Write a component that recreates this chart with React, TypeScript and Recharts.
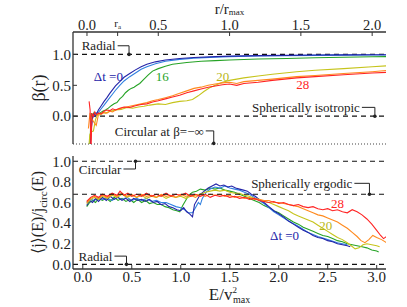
import { LineChart, Line, XAxis, YAxis, ReferenceLine, ReferenceDot } from 'recharts'

const FONT = "'Liberation Serif', 'Times New Roman', 'DejaVu Serif', serif"
const INK = '#222'
const SPINE = '#333'
const TXT = { fontFamily: FONT }

const COLORS = {
  dt0: '#2424a8',
  dt8: '#3080e0',
  dt16: '#26a326',
  dt20: '#c6c41c',
  dt24: '#ff8a1e',
  dt28: '#ff2424',
}

// ---- top panel: beta(r) vs r / r_max ----
const RA = 0.215
const rTicks = [0, RA, 0.5, 1, 1.5, 2]
const betaTicks = [0, 0.5, 1]
const R_DOMAIN = [-0.098, 2.097]
const BETA_DOMAIN = [-0.45, 1.363]

const betaDt0 = [
  [0.015, -0.8], [0.03, -0.2], [0.04, -0.02], [0.05, 0.04], [0.06, 0.0], [0.07, 0.05], [0.08, 0.1],
  [0.1, 0.17], [0.12, 0.24], [0.14, 0.3], [0.16, 0.37], [0.18, 0.43], [0.2, 0.49], [0.23, 0.56],
  [0.26, 0.63], [0.3, 0.69], [0.34, 0.75], [0.38, 0.8], [0.42, 0.84], [0.48, 0.88], [0.55, 0.91],
  [0.65, 0.935], [0.75, 0.95], [0.9, 0.965], [1.0, 0.972], [1.2, 0.98], [1.4, 0.985], [1.6, 0.99],
  [1.8, 0.992], [2.0, 0.994], [2.1, 0.995],
]
const betaDt8 = [
  [0.015, -0.7], [0.03, -0.1], [0.045, 0.02], [0.06, 0.05], [0.08, 0.06], [0.1, 0.12], [0.12, 0.18],
  [0.14, 0.24], [0.16, 0.3], [0.18, 0.36], [0.2, 0.42], [0.23, 0.5], [0.26, 0.57], [0.3, 0.64],
  [0.34, 0.7], [0.38, 0.76], [0.42, 0.8], [0.48, 0.85], [0.55, 0.89], [0.65, 0.92], [0.75, 0.94],
  [0.9, 0.957], [1.0, 0.965], [1.2, 0.975], [1.4, 0.98], [1.6, 0.985], [1.8, 0.988], [2.0, 0.99],
  [2.1, 0.99],
]
const betaDt16 = [
  [0.02, -0.5], [0.03, 0.05], [0.04, 0.0], [0.05, 0.06], [0.07, 0.02], [0.09, 0.05], [0.11, 0.08],
  [0.13, 0.1], [0.15, 0.13], [0.17, 0.17], [0.19, 0.2], [0.21, 0.22], [0.23, 0.28], [0.25, 0.32],
  [0.27, 0.38], [0.29, 0.42], [0.31, 0.45], [0.33, 0.47], [0.35, 0.5], [0.37, 0.53], [0.4, 0.6],
  [0.43, 0.67], [0.46, 0.73], [0.5, 0.77], [0.55, 0.81], [0.6, 0.84], [0.7, 0.87], [0.8, 0.89],
  [0.9, 0.9], [1.0, 0.91], [1.2, 0.925], [1.4, 0.935], [1.6, 0.945], [1.8, 0.955], [2.0, 0.962],
  [2.1, 0.965],
]
const betaDt20 = [
  [0.01, -0.6], [0.02, -0.3], [0.03, -0.25], [0.045, -0.24], [0.06, -0.05], [0.075, 0.03], [0.09, 0.02],
  [0.11, 0.06], [0.13, 0.05], [0.16, 0.08], [0.2, 0.1], [0.24, 0.11], [0.28, 0.14], [0.32, 0.13],
  [0.36, 0.15], [0.4, 0.16], [0.44, 0.18], [0.5, 0.2], [0.55, 0.19], [0.6, 0.22], [0.65, 0.24],
  [0.7, 0.25], [0.74, 0.27], [0.78, 0.33], [0.82, 0.4], [0.86, 0.46], [0.9, 0.5], [0.95, 0.55],
  [1.0, 0.58], [1.1, 0.62], [1.2, 0.65], [1.3, 0.68], [1.47, 0.72], [1.6, 0.745], [1.8, 0.77],
  [2.0, 0.8], [2.1, 0.815],
]
const betaDt24 = [
  [0.01, -0.2], [0.02, 0.03], [0.035, -0.05], [0.05, -0.1], [0.065, -0.15], [0.08, 0.02], [0.09, 0.05],
  [0.1, 0.03], [0.12, 0.06], [0.14, 0.05], [0.16, 0.08], [0.18, 0.07], [0.2, 0.1], [0.23, 0.12],
  [0.26, 0.14], [0.3, 0.16], [0.34, 0.18], [0.38, 0.2], [0.42, 0.22], [0.46, 0.25], [0.5, 0.27],
  [0.55, 0.3], [0.6, 0.33], [0.65, 0.37], [0.7, 0.41], [0.75, 0.45], [0.8, 0.47], [0.85, 0.5],
  [0.9, 0.52], [0.95, 0.54], [1.0, 0.55], [1.05, 0.53], [1.1, 0.56], [1.2, 0.58], [1.3, 0.6],
  [1.47, 0.64], [1.6, 0.66], [1.8, 0.69], [2.0, 0.72], [2.1, 0.74],
]
const betaDt28 = [
  [0.015, 0.24], [0.022, 0.1], [0.028, -0.6], [0.035, 0.05], [0.045, 0.0], [0.055, 0.07], [0.065, 0.02],
  [0.08, 0.05], [0.1, 0.04], [0.12, 0.08], [0.14, 0.1], [0.16, 0.09], [0.18, 0.12], [0.2, 0.1],
  [0.23, 0.13], [0.26, 0.15], [0.3, 0.14], [0.34, 0.17], [0.38, 0.19], [0.42, 0.2], [0.46, 0.23],
  [0.5, 0.25], [0.55, 0.28], [0.6, 0.31], [0.65, 0.34], [0.7, 0.38], [0.75, 0.41], [0.8, 0.44],
  [0.85, 0.47], [0.9, 0.49], [0.95, 0.51], [1.0, 0.52], [1.05, 0.5], [1.1, 0.53], [1.2, 0.55],
  [1.3, 0.58], [1.47, 0.62], [1.6, 0.64], [1.8, 0.67], [2.0, 0.7], [2.1, 0.71],
]

// ---- bottom panel: <j>(E)/j_circ(E) vs E / v_max^2 ----
const eTicks = [0, 0.5, 1, 1.5, 2, 2.5, 3]
const jTicks = [0, 0.2, 0.4, 0.6, 0.8, 1]
const E_DOMAIN = [-0.1, 3.095]
const J_DOMAIN = [-0.045, 1.051]
const ERGODIC = 0.68

const jDt0 = [
  [0.04, 0.57], [0.07, 0.62], [0.1, 0.6], [0.13, 0.64], [0.16, 0.61], [0.2, 0.65], [0.24, 0.62],
  [0.28, 0.66], [0.32, 0.63], [0.36, 0.65], [0.4, 0.62], [0.44, 0.64], [0.48, 0.61], [0.52, 0.64],
  [0.56, 0.62], [0.6, 0.63], [0.64, 0.61], [0.68, 0.63], [0.72, 0.6], [0.76, 0.61], [0.8, 0.58],
  [0.84, 0.59], [0.88, 0.56], [0.92, 0.55], [0.96, 0.53], [1.0, 0.52], [1.03, 0.55], [1.06, 0.51],
  [1.09, 0.49], [1.12, 0.46], [1.14, 0.58], [1.17, 0.63], [1.2, 0.68], [1.24, 0.71], [1.28, 0.74],
  [1.32, 0.76], [1.36, 0.78], [1.4, 0.76], [1.44, 0.77], [1.48, 0.75], [1.52, 0.76], [1.56, 0.74],
  [1.6, 0.73], [1.64, 0.72], [1.68, 0.71], [1.72, 0.68], [1.76, 0.66], [1.8, 0.63], [1.85, 0.6],
  [1.9, 0.56], [1.95, 0.52], [2.0, 0.49], [2.05, 0.46], [2.1, 0.42], [2.15, 0.39], [2.2, 0.36],
  [2.25, 0.33], [2.3, 0.31], [2.35, 0.28], [2.4, 0.26], [2.45, 0.25], [2.5, 0.23], [2.55, 0.22],
  [2.6, 0.2], [2.65, 0.19], [2.7, 0.18], [2.73, 0.17],
]
const jDt8 = [
  [0.04, 0.6], [0.08, 0.63], [0.12, 0.62], [0.16, 0.65], [0.2, 0.63], [0.25, 0.64], [0.3, 0.62],
  [0.35, 0.65], [0.4, 0.63], [0.45, 0.65], [0.5, 0.62], [0.55, 0.64], [0.6, 0.62], [0.65, 0.64],
  [0.7, 0.61], [0.75, 0.62], [0.8, 0.6], [0.85, 0.6], [0.9, 0.58], [0.95, 0.56], [1.0, 0.55],
  [1.04, 0.53], [1.08, 0.5], [1.12, 0.5], [1.15, 0.55], [1.18, 0.6], [1.2, 0.58], [1.22, 0.64],
  [1.26, 0.7], [1.3, 0.73], [1.35, 0.75], [1.4, 0.74], [1.45, 0.76], [1.5, 0.74], [1.55, 0.73],
  [1.6, 0.72], [1.65, 0.7], [1.7, 0.68], [1.75, 0.65], [1.8, 0.62], [1.85, 0.59], [1.9, 0.55],
  [1.95, 0.51], [2.0, 0.48], [2.1, 0.42], [2.2, 0.37], [2.3, 0.31], [2.4, 0.27], [2.5, 0.24],
  [2.6, 0.21], [2.7, 0.19],
]
const jDt16 = [
  [0.04, 0.56], [0.07, 0.6], [0.1, 0.62], [0.13, 0.6], [0.16, 0.64], [0.2, 0.62], [0.24, 0.64],
  [0.28, 0.61], [0.32, 0.65], [0.36, 0.62], [0.4, 0.64], [0.44, 0.61], [0.48, 0.63], [0.52, 0.6],
  [0.56, 0.63], [0.6, 0.6], [0.64, 0.62], [0.68, 0.59], [0.72, 0.6], [0.76, 0.58], [0.8, 0.58],
  [0.84, 0.56], [0.88, 0.55], [0.92, 0.53], [0.96, 0.52], [0.99, 0.51], [1.02, 0.57], [1.05, 0.62],
  [1.08, 0.67], [1.12, 0.7], [1.16, 0.71], [1.2, 0.73], [1.25, 0.72], [1.3, 0.74], [1.35, 0.73],
  [1.4, 0.74], [1.45, 0.72], [1.5, 0.71], [1.55, 0.7], [1.6, 0.68], [1.65, 0.66], [1.7, 0.64],
  [1.75, 0.62], [1.8, 0.6], [1.85, 0.57], [1.9, 0.55], [1.95, 0.52], [2.0, 0.5], [2.05, 0.47],
  [2.1, 0.44], [2.15, 0.41], [2.2, 0.39], [2.25, 0.36], [2.3, 0.34], [2.35, 0.32], [2.4, 0.3],
  [2.45, 0.28], [2.5, 0.27], [2.55, 0.25], [2.6, 0.23], [2.65, 0.22], [2.7, 0.2], [2.75, 0.19],
  [2.8, 0.18], [2.85, 0.17], [2.9, 0.16], [2.95, 0.14], [3.0, 0.13], [3.02, 0.12],
]
const jDt20 = [
  [0.04, 0.59], [0.08, 0.63], [0.12, 0.65], [0.16, 0.63], [0.2, 0.66], [0.25, 0.64], [0.3, 0.67],
  [0.35, 0.65], [0.4, 0.68], [0.45, 0.65], [0.5, 0.67], [0.55, 0.65], [0.6, 0.67], [0.65, 0.64],
  [0.7, 0.66], [0.75, 0.65], [0.8, 0.67], [0.85, 0.64], [0.9, 0.66], [0.95, 0.65], [1.0, 0.66],
  [1.05, 0.64], [1.1, 0.66], [1.15, 0.67], [1.2, 0.68], [1.25, 0.7], [1.3, 0.71], [1.35, 0.72],
  [1.4, 0.71], [1.45, 0.72], [1.5, 0.7], [1.55, 0.69], [1.6, 0.69], [1.65, 0.67], [1.7, 0.66],
  [1.75, 0.64], [1.8, 0.63], [1.85, 0.61], [1.9, 0.6], [1.95, 0.58], [2.0, 0.56], [2.05, 0.54],
  [2.1, 0.52], [2.15, 0.49], [2.2, 0.47], [2.25, 0.45], [2.3, 0.43], [2.35, 0.41], [2.4, 0.38],
  [2.45, 0.35], [2.5, 0.32], [2.55, 0.29], [2.6, 0.26], [2.65, 0.24], [2.7, 0.21], [2.74, 0.18],
  [2.78, 0.15], [2.82, 0.16], [2.86, 0.19], [2.9, 0.2], [2.95, 0.19], [3.0, 0.18], [3.03, 0.17],
]
const jDt24 = [
  [0.04, 0.6], [0.08, 0.64], [0.12, 0.66], [0.16, 0.64], [0.2, 0.67], [0.25, 0.65], [0.3, 0.68],
  [0.35, 0.66], [0.4, 0.69], [0.45, 0.66], [0.5, 0.68], [0.55, 0.65], [0.6, 0.68], [0.65, 0.66],
  [0.7, 0.67], [0.75, 0.65], [0.8, 0.68], [0.85, 0.66], [0.9, 0.67], [0.95, 0.65], [1.0, 0.68],
  [1.05, 0.66], [1.1, 0.67], [1.15, 0.65], [1.2, 0.68], [1.25, 0.66], [1.3, 0.68], [1.35, 0.67],
  [1.4, 0.68], [1.45, 0.66], [1.5, 0.67], [1.55, 0.65], [1.6, 0.66], [1.65, 0.64], [1.7, 0.65],
  [1.75, 0.63], [1.8, 0.63], [1.85, 0.62], [1.9, 0.62], [1.95, 0.6], [2.0, 0.6], [2.05, 0.59],
  [2.1, 0.58], [2.15, 0.57], [2.2, 0.56], [2.25, 0.54], [2.3, 0.52], [2.35, 0.5], [2.4, 0.48],
  [2.45, 0.47], [2.5, 0.45], [2.55, 0.43], [2.6, 0.41], [2.65, 0.38], [2.7, 0.35], [2.75, 0.31],
  [2.8, 0.27], [2.84, 0.23], [2.88, 0.21], [2.92, 0.24], [2.96, 0.28], [3.0, 0.26], [3.05, 0.24],
  [3.1, 0.21],
]
const jDt28 = [
  [0.04, 0.61], [0.08, 0.65], [0.12, 0.67], [0.16, 0.65], [0.2, 0.68], [0.25, 0.66], [0.3, 0.69],
  [0.35, 0.67], [0.38, 0.71], [0.42, 0.67], [0.46, 0.69], [0.5, 0.66], [0.55, 0.68], [0.6, 0.66],
  [0.65, 0.69], [0.7, 0.66], [0.75, 0.68], [0.8, 0.66], [0.85, 0.69], [0.9, 0.66], [0.95, 0.68],
  [1.0, 0.67], [1.05, 0.69], [1.1, 0.66], [1.15, 0.68], [1.2, 0.66], [1.25, 0.68], [1.3, 0.65],
  [1.35, 0.67], [1.4, 0.66], [1.45, 0.67], [1.5, 0.65], [1.55, 0.66], [1.6, 0.64], [1.65, 0.65],
  [1.7, 0.63], [1.75, 0.64], [1.8, 0.62], [1.85, 0.61], [1.9, 0.6], [1.95, 0.61], [2.0, 0.59],
  [2.05, 0.6], [2.1, 0.58], [2.15, 0.57], [2.2, 0.58], [2.25, 0.56], [2.3, 0.55], [2.35, 0.56],
  [2.4, 0.54], [2.45, 0.53], [2.5, 0.54], [2.55, 0.52], [2.6, 0.53], [2.65, 0.51], [2.7, 0.5],
  [2.75, 0.53], [2.8, 0.51], [2.85, 0.48], [2.9, 0.44], [2.95, 0.39], [3.0, 0.33], [3.04, 0.28],
  [3.07, 0.25], [3.1, 0.27],
]

const toRows = (pts: number[][]) => pts.map(([x, y]) => ({ x, y }))

const topSeries = [
  { key: 'b16', data: betaDt16, color: COLORS.dt16 },
  { key: 'b8', data: betaDt8, color: COLORS.dt8 },
  { key: 'b0', data: betaDt0, color: COLORS.dt0 },
  { key: 'b20', data: betaDt20, color: COLORS.dt20 },
  { key: 'b24', data: betaDt24, color: COLORS.dt24 },
  { key: 'b28', data: betaDt28, color: COLORS.dt28 },
]
const bottomSeries = [
  { key: 'j16', data: jDt16, color: COLORS.dt16 },
  { key: 'j8', data: jDt8, color: COLORS.dt8 },
  { key: 'j0', data: jDt0, color: COLORS.dt0 },
  { key: 'j20', data: jDt20, color: COLORS.dt20 },
  { key: 'j24', data: jDt24, color: COLORS.dt24 },
  { key: 'j28', data: jDt28, color: COLORS.dt28 },
]

const fmt = (v: number) => v.toFixed(1)

function TopTick(props: any) {
  const { x, payload } = props
  if (payload.value === RA) {
    return (
      <text x={x} y={27} textAnchor="middle" fill={INK} style={TXT} fontSize={11}>
        r<tspan fontSize={7} dy={2}>a</tspan>
      </text>
    )
  }
  return (
    <text x={x} y={29.5} textAnchor="middle" fill={INK} style={TXT} fontSize={14.5}>
      {fmt(payload.value)}
    </text>
  )
}

function BottomTick(props: any) {
  const { x, payload } = props
  // baseline just under the frame (frame bottom at 119 inside this chart)
  return (
    <text x={x} y={132} textAnchor="middle" fill={INK} style={TXT} fontSize={15}>
      {fmt(payload.value)}
    </text>
  )
}

function LeftTick(props: any) {
  const { y, payload } = props
  return (
    <text x={71} y={y} dy="0.35em" textAnchor="end" fill={INK} style={TXT} fontSize={15}>
      {fmt(payload.value)}
    </text>
  )
}

function TopTitle(props: any) {
  const vb = props.viewBox || {}
  return (
    <text x={vb.x + vb.width / 2} y={13.5} textAnchor="middle" fill={INK} style={TXT} fontSize={15}>
      r/r<tspan fontSize={9} dy={1.5}>max</tspan>
    </text>
  )
}

function BottomTitle(props: any) {
  const vb = props.viewBox || {}
  return (
    <text x={vb.x + vb.width / 2} y={150} textAnchor="middle" fill={INK} style={TXT} fontSize={17}>
      E/v
      <tspan fontSize={9} dy={-7}>2</tspan>
      <tspan fontSize={10} dx={-4} dy={10}>max</tspan>
    </text>
  )
}

function BetaTitle(props: any) {
  const vb = props.viewBox || {}
  const cx = 45
  const cy = vb.y + vb.height / 2
  return (
    <text x={cx} y={cy} transform={`rotate(-90 ${cx} ${cy})`} textAnchor="middle" fill={INK} style={TXT} fontSize={18}>
      β(r)
    </text>
  )
}

function JTitle(props: any) {
  const vb = props.viewBox || {}
  const cx = 43
  const cy = vb.y + vb.height / 2
  return (
    <text x={cx} y={cy} transform={`rotate(-90 ${cx} ${cy})`} textAnchor="middle" fill={INK} style={TXT} fontSize={16}>
      ⟨j⟩(E)/j<tspan fontSize={11} dy={4}>circ</tspan>
      <tspan dy={-4}>(E)</tspan>
    </text>
  )
}

// bent pointer from a text label to a reference level
function callout(key: string, text: string, x0: number, x1: number, yText: number, yTip: number) {
  return [
    <ReferenceDot
      key={key + '-t'}
      x={x0}
      y={yText}
      r={0}
      stroke="none"
      label={{ value: text, position: 'left', offset: 2, fill: INK, fontSize: 13, style: TXT }}
    />,
    <ReferenceLine key={key + '-h'} segment={[{ x: x0, y: yText }, { x: x1, y: yText }]} stroke={INK} strokeWidth={1} />,
    <ReferenceLine key={key + '-v'} segment={[{ x: x1, y: yText }, { x: x1, y: yTip }]} stroke={INK} strokeWidth={1} />,
    <ReferenceDot key={key + '-d'} x={x1} y={yTip} r={1.8} fill={INK} stroke="none" />,
  ]
}

function curveLabel(key: string, text: string, x: number, y: number, color: string) {
  return (
    <ReferenceDot
      key={key}
      x={x}
      y={y}
      r={0}
      stroke="none"
      label={{ value: text, position: 'center', fill: color, fontSize: 13, style: TXT }}
    />
  )
}

// value labels for the crowded left axis of the lower panel, pinned to the frame edge
function leftLabels(values: number[], xEdge: number) {
  return values.map((v) => (
    <ReferenceDot
      key={'yl' + v}
      x={xEdge}
      y={v}
      r={0}
      stroke="none"
      ifOverflow="visible"
      label={{ value: fmt(v), position: 'left', offset: 2, fill: INK, fontSize: 15, style: TXT }}
    />
  ))
}

const axisLine = { stroke: SPINE, strokeWidth: 1.3 }
const tickLine = { stroke: SPINE, strokeWidth: 1 }

export default function App() {
  return (
    <div style={{ position: 'absolute', left: 0, top: 0, width: 407, height: 307, background: '#fff', fontFamily: FONT }}>
      <div style={{ position: 'absolute', left: 0, top: 0 }}>
        <LineChart width={407} height={150} margin={{ top: 0, right: 21, bottom: 6, left: 0 }}>
          <XAxis
            type="number"
            dataKey="x"
            orientation="top"
            height={32}
            domain={R_DOMAIN}
            allowDataOverflow
            ticks={rTicks}
            interval={0}
            minTickGap={0}
            tick={<TopTick />}
            tickSize={-4}
            axisLine={axisLine}
            tickLine={tickLine}
            label={<TopTitle />}
          />
          <YAxis
            type="number"
            width={73}
            domain={BETA_DOMAIN}
            allowDataOverflow
            ticks={betaTicks}
            interval={0}
            minTickGap={0}
            tick={<LeftTick />}
            tickSize={-4}
            axisLine={axisLine}
            tickLine={tickLine}
            label={<BetaTitle />}
          />
          <YAxis
            yAxisId="r"
            orientation="right"
            type="number"
            width={0}
            domain={BETA_DOMAIN}
            allowDataOverflow
            ticks={betaTicks}
            interval={0}
            tick={false}
            tickSize={-4}
            axisLine={axisLine}
            tickLine={tickLine}
          />
          <ReferenceLine y={1} stroke="#111" strokeDasharray="5 4" strokeWidth={1.2} />
          <ReferenceLine y={0} stroke="#111" strokeDasharray="5 4" strokeWidth={1.2} />
          <ReferenceLine y={BETA_DOMAIN[0]} stroke="#444" strokeDasharray="1 2" strokeWidth={1.2} />
          {topSeries.map((s) => (
            <Line
              key={s.key}
              data={toRows(s.data)}
              dataKey="y"
              type="linear"
              stroke={s.color}
              strokeWidth={1.1}
              dot={false}
              activeDot={false}
              isAnimationActive={false}
            />
          ))}
          {callout('radial', 'Radial', 0.215, 0.295, 1.14, 1)}
          {callout('iso', 'Spherically isotropic', 1.928, 2.019, 0.143, 0)}
          {callout('circ', 'Circular at β=−∞', 0.833, 0.889, -0.238, -0.44)}
          {curveLabel('l0', 'Δt =0', 0.15, 0.65, COLORS.dt0)}
          {curveLabel('l16', '16', 0.528, 0.65, COLORS.dt16)}
          {curveLabel('l20', '20', 0.952, 0.65, '#b8b616')}
          {curveLabel('l28', '28', 1.514, 0.52, COLORS.dt28)}
        </LineChart>
      </div>
      <div style={{ position: 'absolute', left: 0, top: 150 }}>
        <LineChart width={407} height={157} margin={{ top: 6, right: 21, bottom: 0, left: 0 }}>
          <XAxis
            type="number"
            dataKey="x"
            height={38}
            domain={E_DOMAIN}
            allowDataOverflow
            ticks={eTicks}
            interval={0}
            minTickGap={0}
            tick={<BottomTick />}
            tickSize={-4}
            axisLine={axisLine}
            tickLine={tickLine}
            label={<BottomTitle />}
          />
          <XAxis
            xAxisId="t"
            type="number"
            orientation="top"
            height={0}
            domain={E_DOMAIN}
            allowDataOverflow
            ticks={eTicks}
            interval={0}
            tick={false}
            tickSize={-4}
            axisLine={axisLine}
            tickLine={tickLine}
          />
          <YAxis
            type="number"
            width={73}
            domain={J_DOMAIN}
            allowDataOverflow
            ticks={jTicks}
            interval={0}
            tick={false}
            tickSize={-4}
            axisLine={axisLine}
            tickLine={tickLine}
            label={<JTitle />}
          />
          <YAxis
            yAxisId="r"
            orientation="right"
            type="number"
            width={0}
            domain={J_DOMAIN}
            allowDataOverflow
            ticks={jTicks}
            interval={0}
            tick={false}
            tickSize={-4}
            axisLine={axisLine}
            tickLine={tickLine}
          />
          <ReferenceLine y={1} stroke="#111" strokeDasharray="5 4" strokeWidth={1.2} />
          <ReferenceLine y={0} stroke="#111" strokeDasharray="5 4" strokeWidth={1.2} />
          {bottomSeries.map((s) => (
            <Line
              key={s.key}
              data={toRows(s.data)}
              dataKey="y"
              type="linear"
              stroke={s.color}
              strokeWidth={1.1}
              dot={false}
              activeDot={false}
              isAnimationActive={false}
            />
          ))}
          <ReferenceLine y={ERGODIC} stroke="#111" strokeDasharray="5 4" strokeWidth={1.2} />
          {leftLabels(jTicks, E_DOMAIN[0])}
          {callout('circ2', 'Circular', 0.415, 0.538, 0.925, 1)}
          {callout('erg', 'Spherically ergodic', 2.772, 2.926, 0.786, ERGODIC)}
          {callout('rad2', 'Radial', 0.323, 0.446, 0.08, 0)}
          {curveLabel('m28', '28', 2.6, 0.59, COLORS.dt28)}
          {curveLabel('m20', '20', 2.48, 0.38, '#b8b616')}
          {curveLabel('m0', 'Δt =0', 2.06, 0.28, COLORS.dt0)}
        </LineChart>
      </div>
    </div>
  )
}
